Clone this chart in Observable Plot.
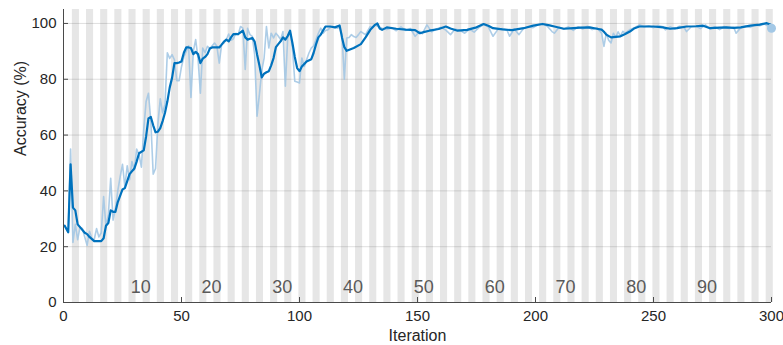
<!DOCTYPE html>
<html><head><meta charset="utf-8">
<script src="https://cdn.jsdelivr.net/npm/d3@7"></script>
<script src="https://cdn.jsdelivr.net/npm/@observablehq/plot@0.6"></script>
<style>
html,body{margin:0;padding:0;background:#fff;}
#chart{width:783px;height:345px;}
</style>
</head><body><div id="chart"></div>
<script>
// ---- data ----
const smoothIter = [0.5,2,3,4,5,6,7,9,10,11,13,14,16,17,18,19,20,21,22,23,25,26,27,28,30,31,32,34,35,36,37,38,39,40,41,42,43,44,45,46,47,48,49,50,51,52,53,54,55,56,57,58,59,60,61,62,63,64,66,67,68,69,70,71,72,74,75,76,77,78,79,80,81,82,83,84,85,86,87,88,89,90,91,92,93,94,95,96,97,98,99,100,101,102,103,105,106,107,108,109,110,111,113,115,117,118,119,120,123,126,128,130,132,133,134,135,137,141,145,149,151,153,155,159,162,164,167,171,175,178,180,182,186,190,195,199,203,206,208,212,216,219,223,226,228,229,230,232,234,236,238,240,242,244,250,254,257,260,264,268,271,274,278,281,284,287,291,295,298,300];
const smoothAcc = [27.5,25.2,49.5,34,33,28,27,25,24.5,23.5,22,22,22,23,27.5,28.5,33,32.5,32.5,36,40.5,41,43.5,46,48,50.5,53.5,54.5,59.5,66,66.5,63.5,61,61.2,62.5,65,68,72,77,80.5,85.8,85.8,86,86.4,89.5,91.4,91.4,91.2,89,89.8,89,85.8,87.4,88,89,91,91.4,91.4,91.4,92.4,93.5,94.2,93.6,95,96.2,96.2,96.8,97.4,95,94.2,94.5,94.8,93.5,89,85,80.7,82,82.5,82.9,85,87.6,91.5,92.6,93.6,95,94.2,95.5,97.4,93,88,84,82.9,84.6,85.5,86.4,87.2,89.5,92.5,95,96,97.5,98.9,98.9,98.6,99.3,95,91.5,90.2,91.2,92.6,95,97.7,99.5,100,98.2,97.7,98.6,98.1,97.8,97.6,96.5,97,97.4,98,98.9,98.2,97.4,97.7,98.6,99.8,99.2,98.3,97.9,97.6,98.3,99.2,99.8,99.3,98.9,98.1,98.3,98.5,98.6,98.1,97.8,97,96,95,95.2,95.4,96.2,97.1,98.3,98.9,98.9,98.6,98.1,98.3,98.9,99,99.2,98.3,98.5,98.6,98.4,98.6,99.2,99.6,100.1,99.4];

const rawIter = [0.5,2,3,4,5,6,7,8,9,10,11,12,13,14,15,16,17,18,19,20,21,22,23,24,25,26,27,28,29,30,31,32,33,34,35,36,37,38,39,40,41,42,43,44,45,46,47,48,49,50,51,52,53,54,55,56,57,58,59,60,61,62,63,64,65,66,67,68,69,70,71,72,73,74,75,76,77,78,79,80,81,82,83,84,85,86,87,88,89,90,91,92,93,94,95,96,97,98,99,100,101,102,103,104,105,106,107,108,109,110,111,112,113,114,116,117,118,119,120,121,122,123,124,125,126,127,128,129,130,131,132,133,135,137,139,141,143,145,147,149,151,152,154,156,158,160,162,164,166,168,170,172,174,176,178,180,182,184,186,188,189,191,193,195,197,199,201,203,205,207,208,210,212,214,216,218,220,222,224,226,228,229,230,231,232,233,234,235,236,237,238,240,242,244,246,248,250,252,254,255,257,259,261,263,264,266,268,270,272,274,276,278,280,282,284,285,287,289,291,293,295,297,299,300];
const rawAcc = [27.5,25,55,21.5,28,22.5,27,26.5,23.5,20.5,25.5,23,22.5,26.5,23.5,25,38,27,31.5,44.5,29.5,33.5,40,45,49.5,41.5,49,44,50.5,47.5,55,53,48.5,62,72,75,65,46,48,64,73,68,71,89.5,87.5,88.8,87,79.5,79.5,84.5,88,90,92,73.5,90,94.2,87.5,75,91.2,89.5,91.8,91,92,93,91.8,85.8,92.4,93,94.2,96.2,94,94.5,96.5,96,98.9,98.3,83.5,98.3,96,95.4,88.8,66.8,74.5,83,87.6,98.9,91.2,96.5,94.8,96.5,95.5,94.2,97.1,77.5,94.8,97.1,91.2,79.3,79,78.7,87.6,84.6,87,89.4,91.2,92,94.2,96.5,98.3,96.5,97.5,97.7,98.5,98.9,98.3,98.6,96,80,94.8,95,96,95.3,95,96,97.1,96.5,96,97.5,98.9,98.5,99.5,99,98.3,97.8,98.5,97.4,98.8,97.5,98.2,95.4,97.2,96.3,99.5,97,98,98.6,97.6,96,98,97.5,96.5,98,96.9,98.5,99.6,98.8,95.4,97.8,98.2,97.5,95.4,98,96,98.3,98.8,98.5,99.5,100,99,97.1,96.5,98.6,98,98.8,97.5,98.8,98,99,97.8,98.5,96.5,91.8,96.5,94,93,96.5,95,97,95.5,97.2,96.5,97.8,98.5,99.5,98.8,99.2,98.5,99.3,98.8,97.7,98.8,98,99,98.5,97.1,98.8,99,98.2,99.5,98,98.8,97.8,98.9,98.2,98.6,96.5,98.5,99,98.6,99.5,99.2,99.8,98.9,98.3];

const finalIter = [300];
const finalAcc = [98.3];

const itersPerEpoch = 3;
const numEpochs = 100;
const epochLabels = [10,20,30,40,50,60,70,80,90];
const xTicks = [0,50,100,150,200,250,300];
const yTicks = [0,20,40,60,80,100];
const xLabel = "Iteration";
const yLabel = "Accuracy (%)";

// ---- derived tables ----
const smooth = smoothIter.map((x,i)=>({x, y: smoothAcc[i]}));
const raw = rawIter.map((x,i)=>({x, y: rawAcc[i]}));
const finalPt = finalIter.map((x,i)=>({x, y: finalAcc[i]}));
const bands = d3.range(2, numEpochs+1, 2).map(e => ({x1: (e-1)*itersPerEpoch + 0.75, x2: e*itersPerEpoch + 0.75}));
const labels = epochLabels.map(e => ({x: e*itersPerEpoch + 2.7, y: 5.4, t: String(e)}));

const chart = Plot.plot({
  width: 783, height: 345,
  marginTop: 9, marginBottom: 43, marginLeft: 63, marginRight: 12,
  style: {fontFamily: "'Liberation Sans', Arial, sans-serif", fontSize: "15px", color: "#262626", background: "#fff"},
  x: {domain: [0, 300]},
  y: {domain: [0, 105]},
  marks: [
    Plot.rect(bands, {x1: "x1", x2: "x2", y1: 0, y2: 105, fill: "#e6e6e6"}),
    Plot.ruleY(yTicks.slice(1), {stroke: "#262626", strokeOpacity: 0.15}),
    Plot.text(labels, {x: "x", y: "y", text: "t", fontSize: 18, fill: "#5a5a5a"}),
    Plot.line(raw, {x: "x", y: "y", stroke: "#9fc4e3", strokeWidth: 1.6, strokeOpacity: 0.85}),
    Plot.line(smooth, {x: "x", y: "y", stroke: "#0072BD", strokeWidth: 2.2}),
    Plot.dot(finalPt, {x: "x", y: "y", r: 4.5, fill: "#a3c8e6", stroke: "none"}),
    Plot.ruleX([0], {stroke: "#4a4a4a"}),
    Plot.ruleY([0], {stroke: "#4a4a4a"}),
    Plot.axisX({ticks: xTicks, tickSize: -5, tickPadding: 13, stroke: "#4a4a4a", fontSize: 15, label: null}),
    Plot.axisY({ticks: yTicks, tickSize: -5, tickPadding: 12, stroke: "#4a4a4a", fontSize: 15, label: null}),
    Plot.text([xLabel], {frameAnchor: "bottom", lineAnchor: "middle", dy: 33, text: d => d, fontSize: 16, fill: "#262626"}),
    Plot.text([yLabel], {frameAnchor: "left", dx: -43, rotate: -90, text: d => d, fontSize: 16, fill: "#262626"})
  ]
});
document.getElementById("chart").appendChild(chart);
</script>
</body></html>
